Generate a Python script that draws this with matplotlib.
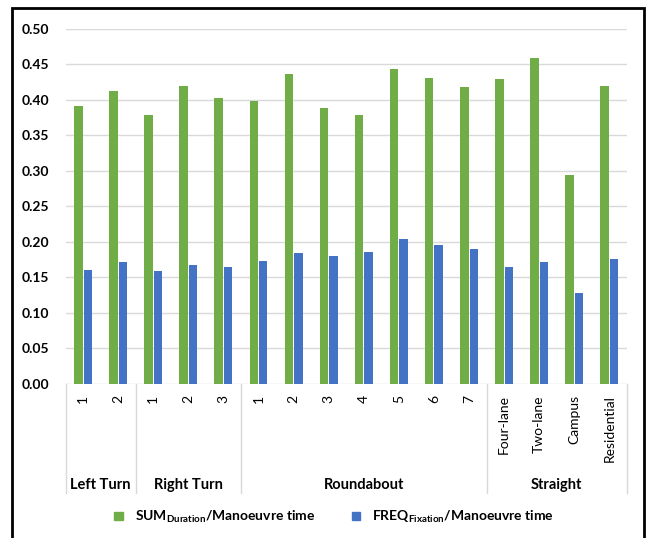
import numpy as np
import matplotlib
matplotlib.use("Agg")
import matplotlib.pyplot as plt
from matplotlib.patches import Patch, Rectangle

plt.rcParams['font.family'] = ['Lato', 'DejaVu Sans']
plt.rcParams['mathtext.fontset'] = 'custom'
plt.rcParams['mathtext.rm'] = 'Lato'
plt.rcParams['mathtext.bf'] = 'Lato:bold'

# data
groups = ['Left Turn', 'Right Turn', 'Roundabout', 'Straight']
group_items = [
    ['1', '2'],
    ['1', '2', '3'],
    ['1', '2', '3', '4', '5', '6', '7'],
    ['Four-lane', 'Two-lane', 'Campus', 'Residential'],
]
sum_duration = [0.391, 0.413,
                0.378, 0.420, 0.403,
                0.398, 0.436, 0.389, 0.379, 0.443, 0.431, 0.418,
                0.429, 0.459, 0.294, 0.420]
freq_fixation = [0.161, 0.171,
                 0.159, 0.167, 0.165,
                 0.173, 0.184, 0.180, 0.186, 0.204, 0.195, 0.190,
                 0.165, 0.171, 0.128, 0.176]

green = '#70AD47'
blue = '#4472C4'
grid_col = '#D9D9D9'

labels = [lab for items in group_items for lab in items]
x = np.arange(len(labels))

fig = plt.figure(figsize=(6.49, 5.38), dpi=100)
ax = fig.add_axes([0.101, 0.2862, 0.865, 0.6605])

w = 0.24
ax.bar(x - 0.135, sum_duration, width=w, color=green, zorder=3)
ax.bar(x + 0.135, freq_fixation, width=w, color=blue, zorder=3)

ax.set_xlim(-0.5, len(labels) - 0.5)
ax.set_ylim(0, 0.5)
ax.set_yticks(np.arange(0, 0.501, 0.05))
ax.set_yticklabels(['%.2f' % v for v in np.arange(0, 0.501, 0.05)],
                   fontsize=10, fontweight='bold')
ax.yaxis.grid(True, color=grid_col, linewidth=1, zorder=0)
ax.tick_params(axis='y', length=0, pad=12)
ax.tick_params(axis='x', length=0, pad=8)
for s in ax.spines.values():
    s.set_visible(False)

ax.set_xticks(x)
ax.set_xticklabels(labels, rotation=90, fontsize=10, va='top')

# group separators and group names
edges = [-0.5]
for items in group_items:
    edges.append(edges[-1] + len(items))
for e in edges:
    ax.axvline(e, ymin=-0.307, ymax=0, color=grid_col, linewidth=1, clip_on=False)
for i, g in enumerate(groups):
    c = (edges[i] + edges[i + 1]) / 2
    ax.text(c, -0.283, g, transform=ax.get_xaxis_transform(), ha='center',
            va='center', fontsize=10.5, fontweight='bold')

handles = [Patch(color=green), Patch(color=blue)]
leg_labels = [r'SUM$_{\mathbf{Duration}}$/Manoeuvre time',
              r'FREQ$_{\mathbf{Fixation}}$/Manoeuvre time']
fig.legend(handles, leg_labels, loc='center', bbox_to_anchor=(0.515, 0.039),
           ncol=2, frameon=False, prop={'size': 10, 'weight': 'bold'},
           handlelength=0.6, handleheight=0.6, handletextpad=0.9,
           columnspacing=2.6)

# outer frame
fig.patches.append(Rectangle((12 / 649, -0.05), (644 - 12) / 649, 1 - 8 / 538 + 0.05,
                             fill=False, edgecolor='black', linewidth=2,
                             transform=fig.transFigure, figure=fig))

fig.savefig('out.png', dpi=100)
